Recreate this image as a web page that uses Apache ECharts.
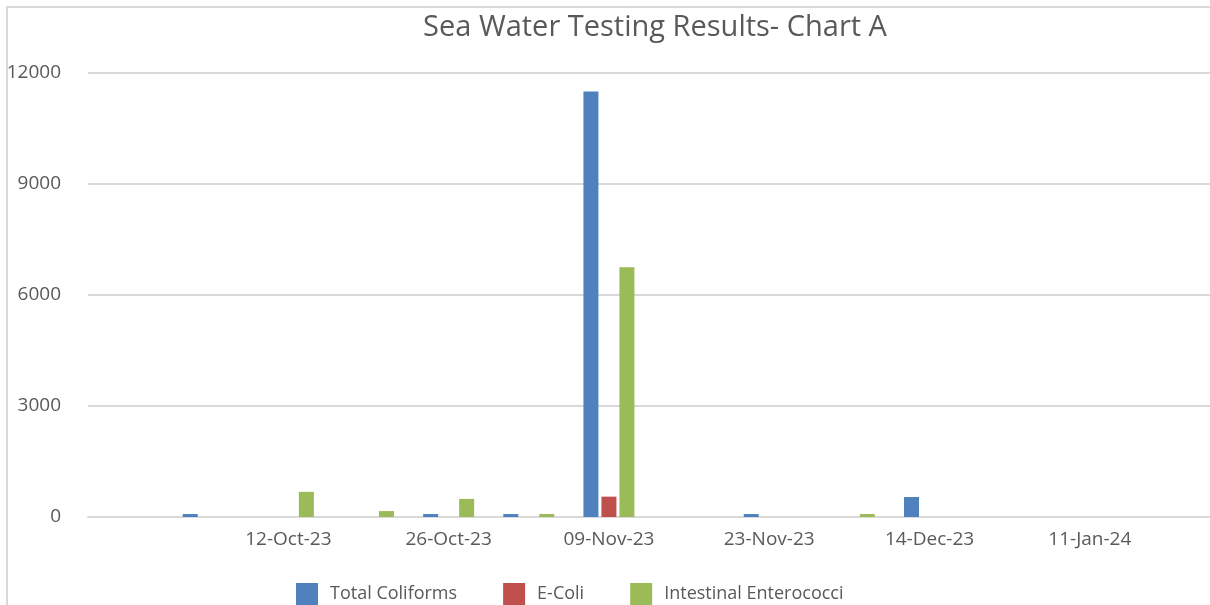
<!DOCTYPE html>
<html lang="en">
<head>
  <meta charset="UTF-8">
  <title>Sea Water Testing Results- Chart A</title>
  <script src="https://cdn.jsdelivr.net/npm/echarts@6/dist/echarts.min.js"></script>
  <style>
    body{margin:0;background:#fff;font-family:'Open Sans'}
    #main{position:absolute;left:0;top:0;width:1210px;height:605px}
    #frame{position:absolute;left:6px;top:6px;width:1204px;height:599px;border-left:2px solid #d9d9d9;border-top:2px solid #d9d9d9;pointer-events:none}
  </style>
</head>
<body>
  <div id="main"></div>
  <div id="frame"></div>
  <script>
  // sample dates (only every other one is labelled on the chart)
  const dates = ['', '', '12-Oct-23', '', '26-Oct-23', '', '09-Nov-23', '', '23-Nov-23', '', '14-Dec-23', '', '11-Jan-24', ''];
  const totalColiforms = [null, 80, null, null, 80, 80, 11500, null, 80, null, 540, null, null, null];
  const eColi          = [null, null, null, null, null, null, 550, null, null, null, null, null, null, null];
  const enterococci    = [null, null, 680, 160, 490, 80, 6750, null, null, 80, null, null, null, null];
  const yTicks = {min: 0, max: 12000, step: 3000};

  const grey = '#595959';
  const chart = echarts.init(document.getElementById('main'));
  chart.setOption({
    animation: false,
    textStyle: {fontFamily: 'Open Sans'},
    title: {
      text: 'Sea Water Testing Results- Chart A',
      left: 650, top: 8, textAlign: 'center',
      textStyle: {fontSize: 29, fontWeight: 'normal', color: grey, fontFamily: 'Open Sans'}
    },
    legend: {
      left: 291, top: 578,
      itemWidth: 22, itemHeight: 22, itemGap: 46,
      icon: 'rect',
      textStyle: {fontSize: 18, color: grey, padding: [0, 0, 0, 7]},
      data: ['Total Coliforms', 'E-Coli', 'Intestinal Enterococci']
    },
    grid: {left: 88, right: -3, top: 73, bottom: 88},
    xAxis: {
      type: 'category',
      data: dates,
      axisLine: {lineStyle: {color: '#d9d9d9', width: 2}},
      axisTick: {show: false},
      axisLabel: {interval: 0, fontSize: 19, color: grey, margin: 13}
    },
    yAxis: {
      type: 'value',
      min: yTicks.min, max: yTicks.max, interval: yTicks.step,
      axisLine: {show: false},
      axisTick: {show: false},
      axisLabel: {fontSize: 19, color: grey, margin: 27, formatter: v => String(v)},
      splitLine: {lineStyle: {color: '#d9d9d9', width: 2}}
    },
    series: [
      {name: 'Total Coliforms', type: 'bar', data: totalColiforms, barWidth: 15, barGap: '20%', itemStyle: {color: '#4f81bd'}},
      {name: 'E-Coli', type: 'bar', data: eColi, barWidth: 15, barGap: '20%', itemStyle: {color: '#c0504d'}},
      {name: 'Intestinal Enterococci', type: 'bar', data: enterococci, barWidth: 15, barGap: '20%', itemStyle: {color: '#9bbb59'}}
    ]
  });
  </script>
</body>
</html>
